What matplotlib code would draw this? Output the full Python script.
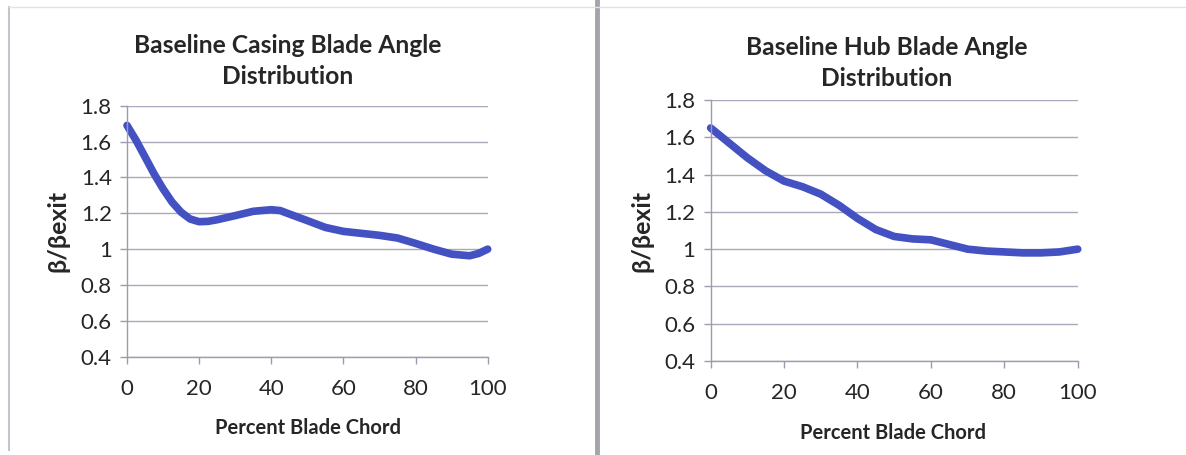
import matplotlib
matplotlib.use('Agg')
from matplotlib import pyplot as plt
from matplotlib.lines import Line2D

plt.rcParams['font.family'] = ['Lato', 'DejaVu Sans']

# percent blade chord -> beta / beta_exit
casing_x = [0, 2.5, 5, 7.5, 10, 12.5, 15, 17.5, 20, 22.5, 25, 30, 35, 40, 42.5,
            45, 50, 55, 60, 65, 70, 75, 80, 85, 90, 95, 97.5, 100]
casing_y = [1.69, 1.607, 1.514, 1.42, 1.336, 1.262, 1.206, 1.168, 1.153, 1.155,
            1.164, 1.187, 1.211, 1.22, 1.215, 1.196, 1.159, 1.121, 1.099, 1.088,
            1.077, 1.062, 1.032, 1.0, 0.972, 0.963, 0.976, 1.0]

hub_x = [0, 5, 10, 15, 20, 25, 30, 35, 40, 45, 50, 55, 60, 65, 70, 75, 80, 85,
         90, 95, 100]
hub_y = [1.65, 1.57, 1.49, 1.42, 1.365, 1.335, 1.295, 1.235, 1.165, 1.105, 1.068,
         1.055, 1.05, 1.025, 1.0, 0.99, 0.985, 0.98, 0.98, 0.985, 1.0]

x_ticks = [0, 20, 40, 60, 80, 100]
y_ticks = [0.4, 0.6, 0.8, 1.0, 1.2, 1.4, 1.6, 1.8]
y_tick_labels = ['0.4', '0.6', '0.8', '1', '1.2', '1.4', '1.6', '1.8']

line_color = '#4451C2'
grid_color = '#A9A9BC'
text_color = '#262626'

fig = plt.figure(figsize=(11.86, 4.55), dpi=100)
fig.patch.set_facecolor('white')


def draw_panel(ax, xs, ys, title, title_pos, xlabel_pos, ylabel_pos):
    ax.set_xlim(0, 100)
    ax.set_ylim(0.4, 1.8)
    ax.set_xticks(x_ticks)
    ax.set_yticks(y_ticks)
    ax.set_yticklabels(y_tick_labels)
    for side in ('top', 'right'):
        ax.spines[side].set_visible(False)
    for side in ('left', 'bottom'):
        ax.spines[side].set_color('#9C9CAE')
        ax.spines[side].set_linewidth(1)
    ax.tick_params(axis='both', direction='out', length=5, width=1,
                   color='#9C9CAE', labelsize=16, labelcolor=text_color)
    ax.tick_params(axis='x', pad=11)
    ax.tick_params(axis='y', pad=6)
    ax.set_axisbelow(True)
    ax.yaxis.grid(True, color=grid_color, linewidth=1)
    ax.plot(xs, ys, color=line_color, linewidth=5.5, solid_capstyle='round',
            solid_joinstyle='round', clip_on=False)
    fig.text(title_pos[0], title_pos[1], title, ha='center', va='center',
             fontsize=17.7, fontweight='bold', color=text_color, linespacing=1.45)
    fig.text(xlabel_pos[0], xlabel_pos[1], 'Percent Blade Chord', ha='center',
             va='center', fontsize=14.5, fontweight='bold', color=text_color)
    fig.text(ylabel_pos[0], ylabel_pos[1], 'β/βexit', ha='center', va='center',
             rotation=90, fontsize=18, fontweight='bold', color=text_color)


ax1 = fig.add_axes([0.1071, 0.2160, 0.3041, 0.5517])
draw_panel(ax1, casing_x, casing_y,
           'Baseline Casing Blade Angle\nDistribution',
           (0.2428, 1 - 61 / 455), (0.2597, 1 - 428 / 455), (58 / 1186, 1 - 231 / 455))

ax2 = fig.add_axes([0.5992, 0.2066, 0.3095, 0.5736])
draw_panel(ax2, hub_x, hub_y,
           'Baseline Hub Blade Angle\nDistribution',
           (0.7479, 1 - 63 / 455), (893 / 1186, 1 - 433 / 455), (642 / 1186, 1 - 231 / 455))

# panel frames and divider
fig.add_artist(Line2D([597 / 1186, 597 / 1186], [0, 1], color='#A4A4AC',
                      linewidth=3.5, transform=fig.transFigure))
fig.add_artist(Line2D([9 / 1186, 9 / 1186], [0.01, 0.985], color='#C4C4CC',
                      linewidth=1.5, transform=fig.transFigure))
fig.add_artist(Line2D([9 / 1186, 1], [1 - 7 / 455, 1 - 7 / 455], color='#E2E2E6',
                      linewidth=1, transform=fig.transFigure))

fig.savefig('out.png', dpi=100, facecolor='white')
plt.close(fig)
